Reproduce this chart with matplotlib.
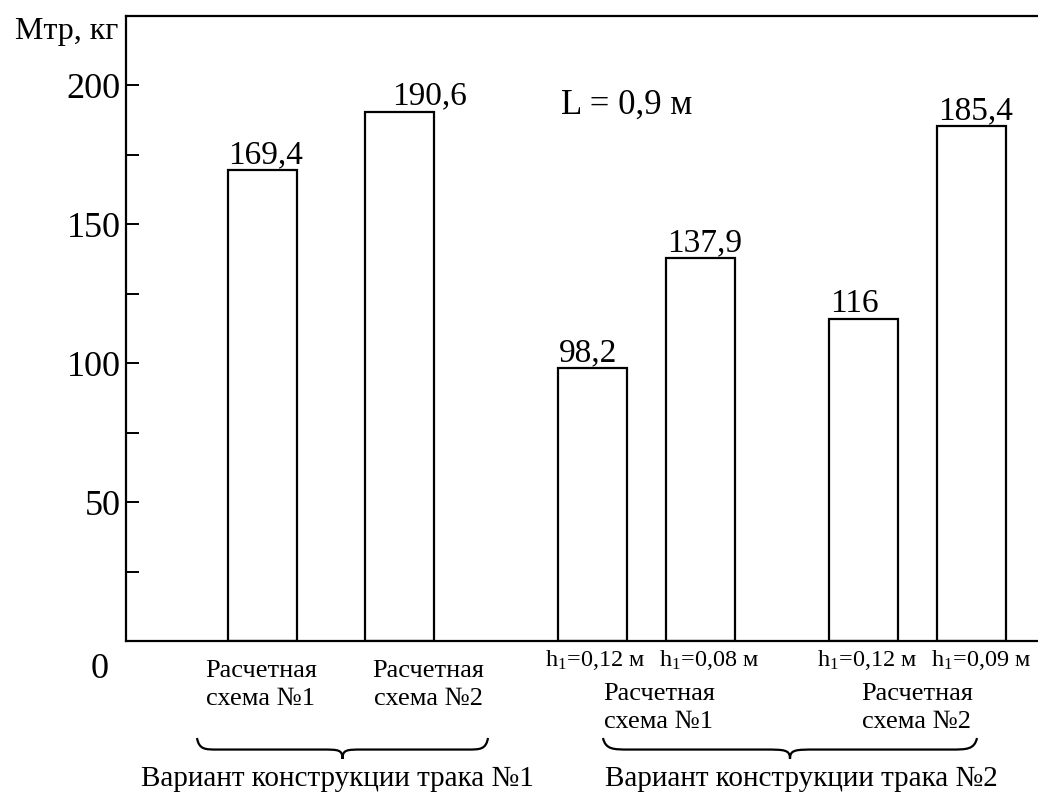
import matplotlib
matplotlib.use("Agg")
import matplotlib.pyplot as plt
from matplotlib.path import Path
from matplotlib.patches import PathPatch
import matplotlib.transforms as mtransforms

plt.rcParams["font.family"] = ["Liberation Serif", "DejaVu Serif"]
plt.rcParams["mathtext.fontset"] = "custom"
plt.rcParams["mathtext.rm"] = "Liberation Serif"

# data
values = [169.4, 190.6, 98.2, 137.9, 116, 185.4]
value_labels = ["169,4", "190,6", "98,2", "137,9", "116", "185,4"]
scheme_labels = ["Расчетная\nсхема №1", "Расчетная\nсхема №2"]
h_labels = ["$\\mathregular{h_1}$=0,12 м", "$\\mathregular{h_1}$=0,08 м",
            "$\\mathregular{h_1}$=0,12 м", "$\\mathregular{h_1}$=0,09 м"]
group_labels = ["Вариант конструкции трака №1", "Вариант конструкции трака №2"]

# layout (x in axis units)
x_pos = [1.36, 2.73, 4.66, 5.74, 7.375, 8.455]
bar_w = 0.69
label_dx = [0.04, 0.31, -0.04, 0.05, -0.09, 0.04]
g1_scheme_x = [1.35, 3.02]
g2_scheme_x = [5.33, 7.91]
h_x = [4.69, 5.83, 7.41, 8.55]
braces = [(0.71, 3.62), (4.77, 8.51)]
group_x = [2.11, 6.75]

fig = plt.figure(figsize=(10.38, 7.92), dpi=100)
ax = fig.add_axes([126 / 1038, 151 / 792, 912 / 1038, 625 / 792])

ax.bar(x_pos, values, width=bar_w, color="white", edgecolor="black", linewidth=1.6)
for x, v, t, dx in zip(x_pos, values, value_labels, label_dx):
    ax.text(x + dx, v + 2.5, t, ha="center", va="baseline", fontsize=24)

ax.set_xlim(0, 9.12)
ax.set_ylim(0, 225)
ax.spines["right"].set_visible(False)
for s in ["left", "top", "bottom"]:
    ax.spines[s].set_linewidth(1.6)
ax.set_xticks([])
ax.set_yticks([50, 100, 150, 200])
ax.set_yticks([25, 75, 125, 175], minor=True)
ax.tick_params(axis="y", which="both", direction="in", length=9, width=1.4,
               labelsize=26, pad=4)

trans = mtransforms.blended_transform_factory(ax.transData, ax.transAxes)
px = 1 / 625

ax.text(-0.26, -28 * px, "0", transform=trans, ha="center", va="center", fontsize=26)
ax.text(-0.08, 609 * px, "Mтр, кг", transform=trans, ha="right", va="center", fontsize=23)
ax.text(5.01, 193, "L = 0,9 м", ha="center", va="center", fontsize=25)

for x, t in zip(g1_scheme_x, scheme_labels):
    ax.text(x, -44 * px, t, transform=trans, ha="center", va="center",
            fontsize=19, linespacing=1.3)
for x, t in zip(h_x, h_labels):
    ax.text(x, -19 * px, t, transform=trans, ha="center", va="center", fontsize=17.5)
for x, t in zip(g2_scheme_x, scheme_labels):
    ax.text(x, -67 * px, t, transform=trans, ha="center", va="center",
            fontsize=19, linespacing=1.3)


def brace(x0, x1, ytop, depth):
    mid = (x0 + x1) / 2
    r = (x1 - x0) * 0.07
    yb = ytop - depth * 0.55
    verts = [(x0, ytop), (x0 + r * 0.1, yb), (x0 + r * 0.4, yb), (x0 + r, yb),
             (mid - r, yb), (mid - r * 0.2, yb), (mid, yb), (mid, ytop - depth),
             (mid, yb), (mid + r * 0.2, yb), (mid + r, yb),
             (x1 - r, yb), (x1 - r * 0.4, yb), (x1 - r * 0.1, yb), (x1, ytop)]
    codes = [Path.MOVETO, Path.CURVE4, Path.CURVE4, Path.CURVE4,
             Path.LINETO, Path.CURVE4, Path.CURVE4, Path.CURVE4,
             Path.CURVE4, Path.CURVE4, Path.CURVE4,
             Path.LINETO, Path.CURVE4, Path.CURVE4, Path.CURVE4]
    ax.add_patch(PathPatch(Path(verts, codes), fill=False, lw=1.6, color="black",
                           transform=trans, clip_on=False))


for x0, x1 in braces:
    brace(x0, x1, -97 * px, 21 * px)

for x, t in zip(group_x, group_labels):
    ax.text(x, -138 * px, t, transform=trans, ha="center", va="center", fontsize=21)

fig.savefig("out.png", dpi=100)
